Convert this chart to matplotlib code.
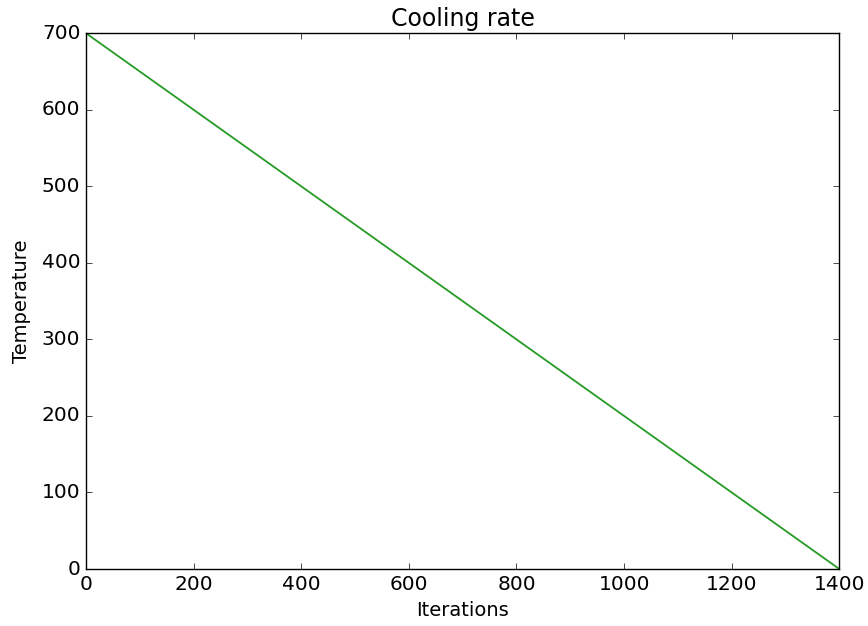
import matplotlib
matplotlib.use("Agg")
import matplotlib.pyplot as plt

# cooling schedule endpoints
iterations = [0, 1400]
temperature = [700, 0]

plt.style.use("classic")
fig = plt.figure(figsize=(8.68, 6.26), dpi=100, facecolor="white")
ax = fig.add_axes([0.099, 0.091, 0.868, 0.856])

ax.plot(iterations, temperature, color="#259b25", linewidth=1.3)
ax.set_xlim(0, 1400)
ax.set_ylim(0, 700)
ax.set_title("Cooling rate", fontsize=17)
ax.set_xlabel("Iterations", fontsize=14)
ax.set_ylabel("Temperature", fontsize=14, labelpad=8)
ax.tick_params(labelsize=14.5)

fig.savefig("out.png", dpi=100, facecolor="white")
